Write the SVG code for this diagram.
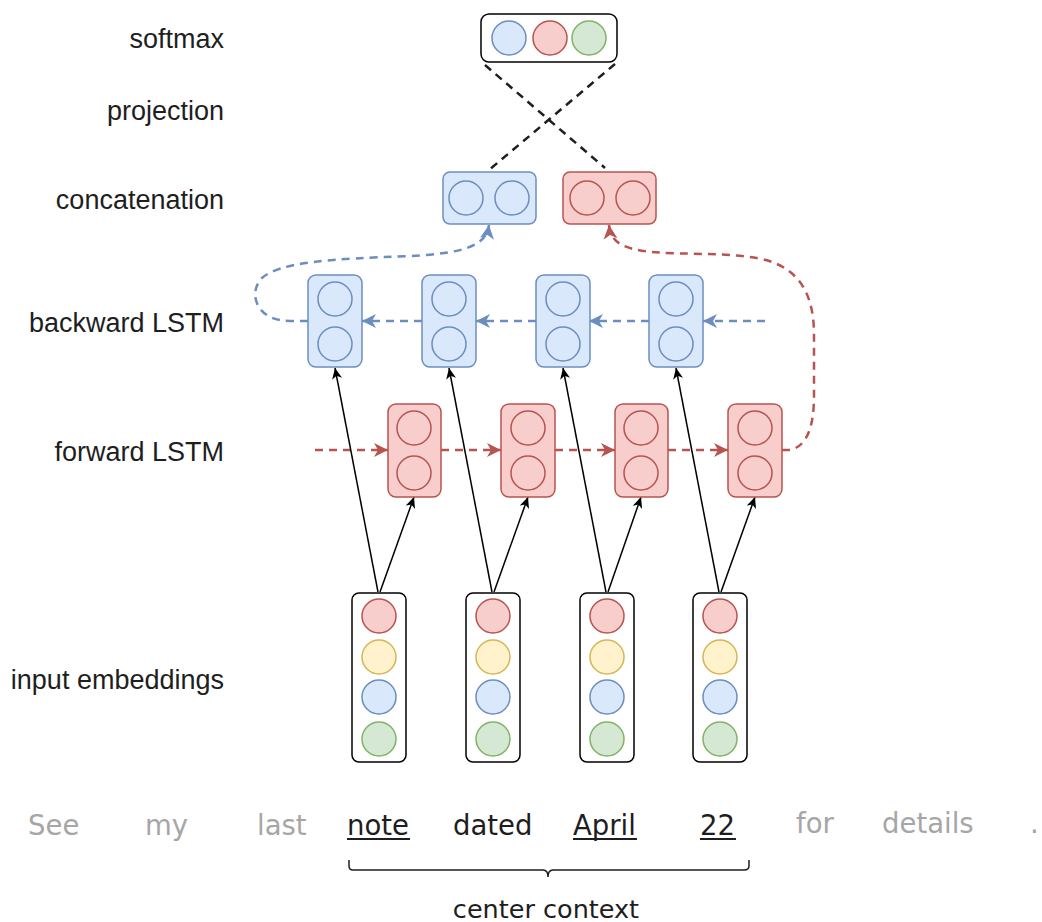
<svg xmlns="http://www.w3.org/2000/svg" width="1042" height="922" viewBox="0 0 1042 922">
<style>
.lbl{font-family:"Liberation Sans",Arial,Helvetica,sans-serif;font-size:27px;fill:#1e1e1e;text-anchor:end}
.w{font-family:"DejaVu Sans",Verdana,sans-serif;font-size:27.5px}
.g{fill:#a6a6a6}
.k{fill:#1e1e1e}
.bbox{fill:#dae8fc;stroke:#6c8ebf;stroke-width:1.5}
.rbox{fill:#f8cecc;stroke:#b85450;stroke-width:1.5}
.kbox{fill:#ffffff;stroke:#000;stroke-width:1.5}
.bc{fill:#dae8fc;stroke:#6c8ebf;stroke-width:1.5}
.rc{fill:#f8cecc;stroke:#b85450;stroke-width:1.5}
.yc{fill:#fff2cc;stroke:#d6b656;stroke-width:1.5}
.gc{fill:#d5e8d4;stroke:#82b366;stroke-width:1.5}
.bd{fill:none;stroke:#6c8ebf;stroke-width:2.5;stroke-dasharray:8 6;marker-end:url(#ab)}
.rd{fill:none;stroke:#b85450;stroke-width:2.5;stroke-dasharray:8 6;marker-end:url(#ar)}
.kd{fill:none;stroke:#1e1e1e;stroke-width:2.5;stroke-dasharray:8 6}
.ks{fill:none;stroke:#000;stroke-width:1.5;marker-end:url(#ak)}
</style>
<defs>
<marker id="ab" markerUnits="userSpaceOnUse" markerWidth="16" markerHeight="14" refX="14" refY="7" orient="auto"><path d="M0,0 L14,7 L0,14 L4,7 Z" fill="#6c8ebf" stroke="none"/></marker>
<marker id="ar" markerUnits="userSpaceOnUse" markerWidth="16" markerHeight="14" refX="14" refY="7" orient="auto"><path d="M0,0 L14,7 L0,14 L4,7 Z" fill="#b85450" stroke="none"/></marker>
<marker id="ak" markerUnits="userSpaceOnUse" markerWidth="12" markerHeight="10" refX="11" refY="5" orient="auto"><path d="M0,0 L11,5 L0,10 L3,5 Z" fill="#000" stroke="none"/></marker>
</defs>

<g id="labels">
<text class="lbl" x="224" y="48">softmax</text>
<text class="lbl" x="224" y="120">projection</text>
<text class="lbl" x="224" y="209">concatenation</text>
<text class="lbl" x="224" y="332">backward LSTM</text>
<text class="lbl" x="224" y="461">forward LSTM</text>
<text class="lbl" x="224" y="689">input embeddings</text>
</g>

<g id="connectors">
<line class="kd" x1="485" y1="65" x2="605" y2="168"/>
<line class="kd" x1="615" y1="64" x2="489" y2="170"/>
<line class="rd" x1="315" y1="450" x2="388" y2="450"/>
<line class="rd" x1="441" y1="450" x2="501" y2="450"/>
<line class="rd" x1="555" y1="450" x2="615" y2="450"/>
<line class="rd" x1="668" y1="450" x2="728" y2="450"/>
<path class="rd" d="M782,450 L790,450 C808,446 814,425 814,395 L814,335 C814,295 800,268 762,259 C725,252 685,255 652,252 C625,249 611,244 609,225"/>
<line class="bd" x1="765" y1="321" x2="703" y2="321"/>
<line class="bd" x1="649" y1="321" x2="589" y2="321"/>
<line class="bd" x1="536" y1="321" x2="476" y2="321"/>
<line class="bd" x1="422" y1="321" x2="362" y2="321"/>
<path class="bd" d="M308,321 L290,321 C255,321 248,292 262,278 C280,262 330,259 410,256 C465,253 486,246 489,225"/>
<line class="ks" x1="378" y1="592" x2="335" y2="368"/>
<line class="ks" x1="380" y1="592" x2="414" y2="497"/>
<line class="ks" x1="492" y1="592" x2="449" y2="368"/>
<line class="ks" x1="494" y1="592" x2="528" y2="497"/>
<line class="ks" x1="606" y1="592" x2="563" y2="368"/>
<line class="ks" x1="608" y1="592" x2="641" y2="497"/>
<line class="ks" x1="719" y1="592" x2="676" y2="368"/>
<line class="ks" x1="721" y1="592" x2="755" y2="497"/>
</g>

<g id="softmax">
<rect class="kbox" x="481" y="14" width="136" height="48" rx="8"/>
<circle class="bc" cx="509" cy="38" r="17"/>
<circle class="rc" cx="550" cy="38" r="17"/>
<circle class="gc" cx="589" cy="38" r="17"/>
</g>

<g id="concat-blue">
<rect class="bbox" x="443" y="172" width="93" height="52" rx="7"/>
<circle class="bc" cx="466" cy="198" r="17"/>
<circle class="bc" cx="512" cy="198" r="17"/>
</g>
<g id="concat-red">
<rect class="rbox" x="563" y="172" width="93" height="52" rx="7"/>
<circle class="rc" cx="587" cy="198" r="17"/>
<circle class="rc" cx="633" cy="198" r="17"/>
</g>

<g id="bw1"><rect class="bbox" x="308" y="275" width="54" height="92" rx="8"/><circle class="bc" cx="335" cy="299" r="17"/><circle class="bc" cx="335" cy="344" r="17"/></g>
<g id="bw2"><rect class="bbox" x="422" y="275" width="54" height="92" rx="8"/><circle class="bc" cx="449" cy="299" r="17"/><circle class="bc" cx="449" cy="344" r="17"/></g>
<g id="bw3"><rect class="bbox" x="536" y="275" width="54" height="92" rx="8"/><circle class="bc" cx="563" cy="299" r="17"/><circle class="bc" cx="563" cy="344" r="17"/></g>
<g id="bw4"><rect class="bbox" x="649" y="275" width="54" height="92" rx="8"/><circle class="bc" cx="676" cy="299" r="17"/><circle class="bc" cx="676" cy="344" r="17"/></g>

<g id="fw1"><rect class="rbox" x="388" y="404" width="53" height="93" rx="8"/><circle class="rc" cx="414" cy="428" r="17"/><circle class="rc" cx="414" cy="473" r="17"/></g>
<g id="fw2"><rect class="rbox" x="501" y="404" width="54" height="93" rx="8"/><circle class="rc" cx="528" cy="428" r="17"/><circle class="rc" cx="528" cy="473" r="17"/></g>
<g id="fw3"><rect class="rbox" x="615" y="404" width="53" height="93" rx="8"/><circle class="rc" cx="641" cy="428" r="17"/><circle class="rc" cx="641" cy="473" r="17"/></g>
<g id="fw4"><rect class="rbox" x="728" y="404" width="54" height="93" rx="8"/><circle class="rc" cx="755" cy="428" r="17"/><circle class="rc" cx="755" cy="473" r="17"/></g>

<g id="emb1"><rect class="kbox" x="352" y="593" width="54" height="169" rx="7"/><circle class="rc" cx="379" cy="616" r="17"/><circle class="yc" cx="379" cy="657" r="17"/><circle class="bc" cx="379" cy="697" r="17"/><circle class="gc" cx="379" cy="739" r="17"/></g>
<g id="emb2"><rect class="kbox" x="466" y="593" width="54" height="169" rx="7"/><circle class="rc" cx="493" cy="616" r="17"/><circle class="yc" cx="493" cy="657" r="17"/><circle class="bc" cx="493" cy="697" r="17"/><circle class="gc" cx="493" cy="739" r="17"/></g>
<g id="emb3"><rect class="kbox" x="580" y="593" width="54" height="169" rx="7"/><circle class="rc" cx="607" cy="616" r="17"/><circle class="yc" cx="607" cy="657" r="17"/><circle class="bc" cx="607" cy="697" r="17"/><circle class="gc" cx="607" cy="739" r="17"/></g>
<g id="emb4"><rect class="kbox" x="693" y="593" width="54" height="169" rx="7"/><circle class="rc" cx="720" cy="616" r="17"/><circle class="yc" cx="720" cy="657" r="17"/><circle class="bc" cx="720" cy="697" r="17"/><circle class="gc" cx="720" cy="739" r="17"/></g>

<g id="words">
<text class="w g" x="28" y="835">See</text>
<text class="w g" x="145" y="835">my</text>
<text class="w g" x="257" y="835">last</text>
<text class="w k" x="347" y="835">note</text>
<text class="w k" x="453" y="835">dated</text>
<text class="w k" x="573" y="835">April</text>
<text class="w k" x="700" y="835">22</text>
<text class="w g" x="796" y="833">for</text>
<text class="w g" x="882" y="833">details</text>
<text class="w g" x="1030" y="833">.</text>
<rect x="347" y="838" width="63" height="2" fill="#1e1e1e"/>
<rect x="573" y="838" width="64" height="2" fill="#1e1e1e"/>
<rect x="700" y="838" width="36" height="2" fill="#1e1e1e"/>
</g>

<g id="brace">
<path d="M349,860 L349,866 Q349,870 353,870 L543,870 Q548,870 548,877 Q548,870 553,870 L744,870 Q749,870 749,866 L749,860" fill="none" stroke="#1e1e1e" stroke-width="1.5"/>
<text x="546" y="918" font-family="DejaVu Sans,Verdana,sans-serif" font-size="25.5" fill="#1e1e1e" text-anchor="middle">center context</text>
</g>
</svg>
